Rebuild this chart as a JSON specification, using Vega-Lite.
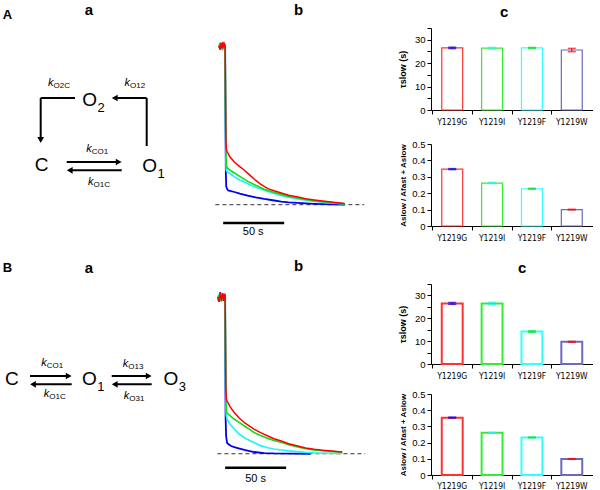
{
  "$schema": "https://vega.github.io/schema/vega-lite/v6.json",
  "padding": {"left": 0, "top": 3, "right": 0, "bottom": 0},
  "background": "white",
  "config": {
    "view": {"stroke": null},
    "font": "Liberation Sans",
    "title": {"fontSize": 15, "fontWeight": "bold", "font": "Liberation Sans", "color": "black", "offset": 10},
    "axis": {"domainColor": "black", "tickColor": "black", "labelColor": "black", "titleColor": "black", "grid": false, "labelFont": "Liberation Sans", "titleFont": "Liberation Sans", "labelOverlap": false}
  },
  "datasets": {
    "schA": [
      {"kind": "fig", "x": 7.5, "y": -13, "base": "A", "sub": ""},
      {"kind": "panel", "x": 89, "y": -17.7, "base": "a", "sub": ""},
      {"kind": "k", "x": 53.5, "y": 55, "base": "k", "sub": "O2C"},
      {"kind": "k", "x": 130, "y": 55, "base": "k", "sub": "O12"},
      {"kind": "k", "x": 91.7, "y": 121.3, "base": "k", "sub": "CO1"},
      {"kind": "k", "x": 93.5, "y": 154, "base": "k", "sub": "O1C"},
      {"kind": "state", "x": 97, "y": 72, "base": "O", "sub": "2"},
      {"kind": "state", "x": 157, "y": 138, "base": "O", "sub": "1"},
      {"kind": "state", "x": 48.5, "y": 137, "base": "C", "sub": ""}
    ],
    "segA": [
      {"x": 75, "y": 70, "x2": 40.7, "y2": 70},
      {"x": 40.7, "y": 70, "x2": 40.7, "y2": 111},
      {"x": 146.7, "y": 118, "x2": 146.7, "y2": 70},
      {"x": 146.7, "y": 70, "x2": 116, "y2": 70},
      {"x": 66.7, "y": 134, "x2": 117, "y2": 134},
      {"x": 121.7, "y": 142.3, "x2": 71, "y2": 142.3}
    ],
    "headA": [
      {"x": 118.7, "y": 134, "dir": "right"},
      {"x": 69.7, "y": 142.3, "dir": "left"},
      {"x": 114.7, "y": 70, "dir": "left"},
      {"x": 40.7, "y": 112, "dir": "down"}
    ],
    "schB": [
      {"kind": "fig", "x": 7.5, "y": -16.3, "base": "B", "sub": ""},
      {"kind": "panel", "x": 89, "y": -16.3, "base": "a", "sub": ""},
      {"kind": "state", "x": 18.7, "y": 95.3, "base": "C", "sub": ""},
      {"kind": "k", "x": 46.7, "y": 78.7, "base": "k", "sub": "CO1"},
      {"kind": "k", "x": 49.3, "y": 110.3, "base": "k", "sub": "O1C"},
      {"kind": "state", "x": 96.7, "y": 95.3, "base": "O", "sub": "1"},
      {"kind": "k", "x": 128.3, "y": 80.3, "base": "k", "sub": "O13"},
      {"kind": "k", "x": 129.3, "y": 112, "base": "k", "sub": "O31"},
      {"kind": "state", "x": 178.3, "y": 95.3, "base": "O", "sub": "3"}
    ],
    "segB": [
      {"x": 30, "y": 92, "x2": 68, "y2": 92},
      {"x": 71.7, "y": 100.3, "x2": 33, "y2": 100.3},
      {"x": 111.7, "y": 92, "x2": 148, "y2": 92},
      {"x": 151.7, "y": 100.3, "x2": 114.5, "y2": 100.3}
    ],
    "headB": [
      {"x": 68.7, "y": 92, "dir": "right"},
      {"x": 33, "y": 100.3, "dir": "left"},
      {"x": 148.7, "y": 92, "dir": "right"},
      {"x": 114.7, "y": 100.3, "dir": "left"}
    ],
    "traceA": [
      {"m": "W", "t": -5, "I": 0.99}, {"m": "W", "t": -4.2, "I": 1.01}, {"m": "W", "t": -3.4, "I": 0.98}, {"m": "W", "t": -2.6, "I": 1.015}, {"m": "W", "t": -1.8, "I": 0.99}, {"m": "W", "t": -1, "I": 1.01}, {"m": "W", "t": -0.4, "I": 0.985}, {"m": "W", "t": 0, "I": 1.0},
      {"m": "W", "t": 0.3, "I": 0.5}, {"m": "W", "t": 0.6, "I": 0.2}, {"m": "W", "t": 0.9, "I": 0.115}, {"m": "W", "t": 1.6, "I": 0.1}, {"m": "W", "t": 2.5, "I": 0.09}, {"m": "W", "t": 7.6, "I": 0.08}, {"m": "W", "t": 12, "I": 0.07}, {"m": "W", "t": 18.5, "I": 0.057}, {"m": "W", "t": 25, "I": 0.046}, {"m": "W", "t": 32, "I": 0.036}, {"m": "W", "t": 39, "I": 0.028}, {"m": "W", "t": 46, "I": 0.019}, {"m": "W", "t": 52, "I": 0.014}, {"m": "W", "t": 59.5, "I": 0.011}, {"m": "W", "t": 66, "I": 0.008}, {"m": "W", "t": 73, "I": 0.005}, {"m": "W", "t": 80, "I": 0.003}, {"m": "W", "t": 87, "I": 0.002}, {"m": "W", "t": 98, "I": 0.001},
      {"m": "F", "t": -5, "I": 1.01}, {"m": "F", "t": -4.2, "I": 0.985}, {"m": "F", "t": -3.4, "I": 1.02}, {"m": "F", "t": -2.6, "I": 0.98}, {"m": "F", "t": -1.8, "I": 1.01}, {"m": "F", "t": -1, "I": 0.985}, {"m": "F", "t": -0.4, "I": 1.015}, {"m": "F", "t": 0, "I": 1.0},
      {"m": "F", "t": 0.3, "I": 0.6}, {"m": "F", "t": 0.6, "I": 0.28}, {"m": "F", "t": 1.0, "I": 0.215}, {"m": "F", "t": 2.2, "I": 0.206}, {"m": "F", "t": 5, "I": 0.19}, {"m": "F", "t": 7.6, "I": 0.175}, {"m": "F", "t": 12, "I": 0.155}, {"m": "F", "t": 18.5, "I": 0.132}, {"m": "F", "t": 25, "I": 0.11}, {"m": "F", "t": 32, "I": 0.091}, {"m": "F", "t": 39, "I": 0.074}, {"m": "F", "t": 46, "I": 0.057}, {"m": "F", "t": 52, "I": 0.047}, {"m": "F", "t": 59.5, "I": 0.036}, {"m": "F", "t": 66, "I": 0.029}, {"m": "F", "t": 73, "I": 0.021}, {"m": "F", "t": 80, "I": 0.016}, {"m": "F", "t": 87, "I": 0.011}, {"m": "F", "t": 92, "I": 0.008}, {"m": "F", "t": 98, "I": 0.005},
      {"m": "I", "t": -5, "I": 0.99}, {"m": "I", "t": -4.2, "I": 1.02}, {"m": "I", "t": -3.4, "I": 0.98}, {"m": "I", "t": -2.6, "I": 1.01}, {"m": "I", "t": -1.8, "I": 0.985}, {"m": "I", "t": -1, "I": 1.015}, {"m": "I", "t": -0.4, "I": 0.99}, {"m": "I", "t": 0, "I": 1.0},
      {"m": "I", "t": 0.3, "I": 0.65}, {"m": "I", "t": 0.6, "I": 0.32}, {"m": "I", "t": 1.0, "I": 0.245}, {"m": "I", "t": 2.2, "I": 0.227}, {"m": "I", "t": 5, "I": 0.212}, {"m": "I", "t": 7.6, "I": 0.2}, {"m": "I", "t": 12, "I": 0.178}, {"m": "I", "t": 18.5, "I": 0.147}, {"m": "I", "t": 25, "I": 0.122}, {"m": "I", "t": 32, "I": 0.097}, {"m": "I", "t": 39, "I": 0.08}, {"m": "I", "t": 46, "I": 0.065}, {"m": "I", "t": 52, "I": 0.052}, {"m": "I", "t": 59.5, "I": 0.042}, {"m": "I", "t": 66, "I": 0.033}, {"m": "I", "t": 73, "I": 0.025}, {"m": "I", "t": 80, "I": 0.019}, {"m": "I", "t": 87, "I": 0.013}, {"m": "I", "t": 92, "I": 0.009}, {"m": "I", "t": 98, "I": 0.005},
      {"m": "G", "t": -5, "I": 1.0}, {"m": "G", "t": -4.2, "I": 0.975}, {"m": "G", "t": -3.4, "I": 1.02}, {"m": "G", "t": -2.6, "I": 0.985}, {"m": "G", "t": -1.8, "I": 1.025}, {"m": "G", "t": -1, "I": 0.99}, {"m": "G", "t": -0.4, "I": 1.01}, {"m": "G", "t": 0, "I": 1.0},
      {"m": "G", "t": 0.3, "I": 0.7}, {"m": "G", "t": 0.6, "I": 0.42}, {"m": "G", "t": 1.0, "I": 0.35}, {"m": "G", "t": 1.6, "I": 0.335}, {"m": "G", "t": 4, "I": 0.3}, {"m": "G", "t": 7.6, "I": 0.269}, {"m": "G", "t": 12, "I": 0.24}, {"m": "G", "t": 15.8, "I": 0.217}, {"m": "G", "t": 20, "I": 0.188}, {"m": "G", "t": 24, "I": 0.16}, {"m": "G", "t": 29, "I": 0.13}, {"m": "G", "t": 35, "I": 0.101}, {"m": "G", "t": 40, "I": 0.088}, {"m": "G", "t": 46, "I": 0.074}, {"m": "G", "t": 52, "I": 0.06}, {"m": "G", "t": 59.5, "I": 0.049}, {"m": "G", "t": 66, "I": 0.038}, {"m": "G", "t": 73, "I": 0.03}, {"m": "G", "t": 80, "I": 0.023}, {"m": "G", "t": 87, "I": 0.017}, {"m": "G", "t": 92, "I": 0.012}, {"m": "G", "t": 98, "I": 0.007}
    ],
    "traceB": [
      {"m": "W", "t": -6, "I": 1.0}, {"m": "W", "t": -5, "I": 0.97}, {"m": "W", "t": -4, "I": 1.03}, {"m": "W", "t": -3, "I": 0.98}, {"m": "W", "t": -2, "I": 1.02}, {"m": "W", "t": -1, "I": 0.975}, {"m": "W", "t": -0.3, "I": 1.01}, {"m": "W", "t": 0, "I": 1.0},
      {"m": "W", "t": 0.2, "I": 0.5}, {"m": "W", "t": 0.4, "I": 0.23}, {"m": "W", "t": 0.8, "I": 0.113}, {"m": "W", "t": 1.6, "I": 0.07}, {"m": "W", "t": 2.5, "I": 0.062}, {"m": "W", "t": 4.9, "I": 0.049}, {"m": "W", "t": 7.6, "I": 0.042}, {"m": "W", "t": 10.3, "I": 0.036}, {"m": "W", "t": 15.8, "I": 0.024}, {"m": "W", "t": 20, "I": 0.017}, {"m": "W", "t": 24, "I": 0.011}, {"m": "W", "t": 32, "I": 0.004}, {"m": "W", "t": 40, "I": 0.002}, {"m": "W", "t": 55, "I": 0.001}, {"m": "W", "t": 70, "I": 0.0},
      {"m": "F", "t": -6, "I": 0.98}, {"m": "F", "t": -5, "I": 1.02}, {"m": "F", "t": -4, "I": 0.975}, {"m": "F", "t": -3, "I": 1.025}, {"m": "F", "t": -2, "I": 0.98}, {"m": "F", "t": -1, "I": 1.02}, {"m": "F", "t": -0.3, "I": 0.99}, {"m": "F", "t": 0, "I": 1.0},
      {"m": "F", "t": 0.3, "I": 0.6}, {"m": "F", "t": 0.6, "I": 0.3}, {"m": "F", "t": 0.9, "I": 0.25}, {"m": "F", "t": 1.6, "I": 0.22}, {"m": "F", "t": 4, "I": 0.19}, {"m": "F", "t": 7.6, "I": 0.156}, {"m": "F", "t": 11.5, "I": 0.126}, {"m": "F", "t": 15.8, "I": 0.102}, {"m": "F", "t": 20, "I": 0.085}, {"m": "F", "t": 24, "I": 0.07}, {"m": "F", "t": 29, "I": 0.052}, {"m": "F", "t": 35, "I": 0.038}, {"m": "F", "t": 40, "I": 0.03}, {"m": "F", "t": 46, "I": 0.024}, {"m": "F", "t": 52, "I": 0.018}, {"m": "F", "t": 59.5, "I": 0.013}, {"m": "F", "t": 66, "I": 0.009}, {"m": "F", "t": 73, "I": 0.006}, {"m": "F", "t": 87, "I": 0.003}, {"m": "F", "t": 96, "I": 0.002},
      {"m": "I", "t": -6, "I": 1.01}, {"m": "I", "t": -5, "I": 0.98}, {"m": "I", "t": -4, "I": 1.02}, {"m": "I", "t": -3, "I": 0.97}, {"m": "I", "t": -2, "I": 1.015}, {"m": "I", "t": -1, "I": 0.985}, {"m": "I", "t": -0.3, "I": 1.02}, {"m": "I", "t": 0, "I": 1.0},
      {"m": "I", "t": 0.3, "I": 0.65}, {"m": "I", "t": 0.6, "I": 0.33}, {"m": "I", "t": 1.0, "I": 0.27}, {"m": "I", "t": 1.6, "I": 0.26}, {"m": "I", "t": 4, "I": 0.243}, {"m": "I", "t": 7.6, "I": 0.22}, {"m": "I", "t": 11.5, "I": 0.2}, {"m": "I", "t": 15.8, "I": 0.177}, {"m": "I", "t": 20, "I": 0.155}, {"m": "I", "t": 24, "I": 0.134}, {"m": "I", "t": 29, "I": 0.116}, {"m": "I", "t": 35, "I": 0.098}, {"m": "I", "t": 40, "I": 0.085}, {"m": "I", "t": 46, "I": 0.073}, {"m": "I", "t": 52, "I": 0.058}, {"m": "I", "t": 59.5, "I": 0.043}, {"m": "I", "t": 66, "I": 0.032}, {"m": "I", "t": 73, "I": 0.024}, {"m": "I", "t": 80, "I": 0.019}, {"m": "I", "t": 87, "I": 0.015}, {"m": "I", "t": 96, "I": 0.009},
      {"m": "G", "t": -6, "I": 1.0}, {"m": "G", "t": -5, "I": 0.97}, {"m": "G", "t": -4, "I": 1.03}, {"m": "G", "t": -3, "I": 0.975}, {"m": "G", "t": -2, "I": 1.025}, {"m": "G", "t": -1, "I": 0.98}, {"m": "G", "t": -0.3, "I": 1.02}, {"m": "G", "t": 0, "I": 1.0},
      {"m": "G", "t": 0.3, "I": 0.7}, {"m": "G", "t": 0.6, "I": 0.42}, {"m": "G", "t": 1.0, "I": 0.35}, {"m": "G", "t": 1.6, "I": 0.336}, {"m": "G", "t": 4, "I": 0.3}, {"m": "G", "t": 7.6, "I": 0.262}, {"m": "G", "t": 11.5, "I": 0.228}, {"m": "G", "t": 15.8, "I": 0.198}, {"m": "G", "t": 20, "I": 0.176}, {"m": "G", "t": 24, "I": 0.156}, {"m": "G", "t": 29, "I": 0.135}, {"m": "G", "t": 35, "I": 0.113}, {"m": "G", "t": 40, "I": 0.096}, {"m": "G", "t": 46, "I": 0.081}, {"m": "G", "t": 52, "I": 0.064}, {"m": "G", "t": 59.5, "I": 0.049}, {"m": "G", "t": 66, "I": 0.037}, {"m": "G", "t": 73, "I": 0.028}, {"m": "G", "t": 80, "I": 0.022}, {"m": "G", "t": 87, "I": 0.017}, {"m": "G", "t": 96, "I": 0.011}
    ],
    "baseA": [{"t1": -8, "t2": 114, "I": 0}],
    "baseB": [{"t1": -6.3, "t2": 114.8, "I": 0}],
    "barA": [{"t1": -1.6, "t2": 48.4, "I": -0.115, "tl": 23, "Il": -0.172, "label": "50 s"}],
    "barB": [{"t1": 0, "t2": 50, "I": -0.089, "tl": 25, "Il": -0.16, "label": "50 s"}],
    "tauA": [
      {"m": "Y1219G", "v": 26.5, "lo": 26.2, "hi": 26.8},
      {"m": "Y1219I", "v": 26.4, "lo": 26.0, "hi": 26.7},
      {"m": "Y1219F", "v": 26.5, "lo": 26.3, "hi": 26.7},
      {"m": "Y1219W", "v": 25.6, "lo": 24.9, "hi": 26.3}
    ],
    "ratA": [
      {"m": "Y1219G", "v": 0.347, "lo": 0.344, "hi": 0.35},
      {"m": "Y1219I", "v": 0.262, "lo": 0.259, "hi": 0.266},
      {"m": "Y1219F", "v": 0.227, "lo": 0.224, "hi": 0.23},
      {"m": "Y1219W", "v": 0.1, "lo": 0.098, "hi": 0.102}
    ],
    "tauB": [
      {"m": "Y1219G", "v": 26.5, "lo": 26.1, "hi": 26.9},
      {"m": "Y1219I", "v": 26.5, "lo": 26.0, "hi": 27.0},
      {"m": "Y1219F", "v": 14.2, "lo": 13.9, "hi": 14.5},
      {"m": "Y1219W", "v": 9.7, "lo": 9.5, "hi": 9.9}
    ],
    "ratB": [
      {"m": "Y1219G", "v": 0.354, "lo": 0.351, "hi": 0.357},
      {"m": "Y1219I", "v": 0.261, "lo": 0.259, "hi": 0.263},
      {"m": "Y1219F", "v": 0.232, "lo": 0.23, "hi": 0.234},
      {"m": "Y1219W", "v": 0.099, "lo": 0.097, "hi": 0.101}
    ]
  },
  "spacing": 17,
  "vconcat": [
    {
      "spacing": 0,
      "hconcat": [
        {
          "width": 205, "height": 214,
          "layer": [
            {"data": {"name": "segA"}, "mark": {"type": "rule", "strokeWidth": 2, "color": "black"},
             "encoding": {"x": {"field": "x", "type": "quantitative", "scale": {"domain": [0, 205], "nice": false, "zero": false}, "axis": null}, "y": {"field": "y", "type": "quantitative", "scale": {"domain": [0, 214], "reverse": true, "nice": false, "zero": false}, "axis": null}, "x2": {"field": "x2"}, "y2": {"field": "y2"}}},
            {"data": {"name": "headA"}, "mark": {"type": "point", "filled": true, "size": 45, "color": "black", "opacity": 1},
             "encoding": {"x": {"field": "x", "type": "quantitative"}, "y": {"field": "y", "type": "quantitative"}, "shape": {"field": "dir", "type": "nominal", "scale": {"domain": ["right", "left", "down"], "range": ["triangle-right", "triangle-left", "triangle-down"]}, "legend": null}}},
            {"data": {"name": "schA"}, "transform": [{"filter": "datum.kind === 'fig'"}], "mark": {"type": "text", "fontSize": 13, "fontWeight": "bold", "align": "center", "baseline": "middle", "color": "black"},
             "encoding": {"x": {"field": "x", "type": "quantitative"}, "y": {"field": "y", "type": "quantitative"}, "text": {"field": "base"}}},
            {"data": {"name": "schA"}, "transform": [{"filter": "datum.kind === 'panel'"}], "mark": {"type": "text", "fontSize": 15, "fontWeight": "bold", "align": "center", "baseline": "middle", "color": "black"},
             "encoding": {"x": {"field": "x", "type": "quantitative"}, "y": {"field": "y", "type": "quantitative"}, "text": {"field": "base"}}},
            {"data": {"name": "schA"}, "transform": [{"filter": "datum.kind === 'state'"}], "mark": {"type": "text", "fontSize": 19, "align": "right", "baseline": "middle", "color": "black"},
             "encoding": {"x": {"field": "x", "type": "quantitative"}, "y": {"field": "y", "type": "quantitative"}, "text": {"field": "base"}}},
            {"data": {"name": "schA"}, "transform": [{"filter": "datum.kind === 'state'"}], "mark": {"type": "text", "fontSize": 13, "align": "left", "baseline": "middle", "dy": 8, "dx": 0.5, "color": "black"},
             "encoding": {"x": {"field": "x", "type": "quantitative"}, "y": {"field": "y", "type": "quantitative"}, "text": {"field": "sub"}}},
            {"data": {"name": "schA"}, "transform": [{"filter": "datum.kind === 'k'"}], "mark": {"type": "text", "fontSize": 11, "fontStyle": "italic", "align": "right", "baseline": "middle", "color": "black"},
             "encoding": {"x": {"field": "x", "type": "quantitative"}, "y": {"field": "y", "type": "quantitative"}, "text": {"field": "base"}}},
            {"data": {"name": "schA"}, "transform": [{"filter": "datum.kind === 'k'"}], "mark": {"type": "text", "fontSize": 8, "align": "left", "baseline": "middle", "dy": 3, "color": "black"},
             "encoding": {"x": {"field": "x", "type": "quantitative"}, "y": {"field": "y", "type": "quantitative"}, "text": {"field": "sub"}}}
          ]
        },
        {
          "title": {"text": "b", "anchor": "middle", "dx": -3},
          "width": 193, "height": 214,
          "layer": [
            {"data": {"name": "baseA"}, "mark": {"type": "rule", "strokeDash": [4, 3], "color": "#333333", "strokeWidth": 1},
             "encoding": {"x": {"field": "t1", "type": "quantitative", "scale": {"domain": [-16.5, 141.7], "nice": false, "zero": false}, "axis": null}, "x2": {"field": "t2"}, "y": {"field": "I", "type": "quantitative", "scale": {"domain": [-0.235, 1.113], "nice": false, "zero": false}, "axis": null}}},
            {"data": {"name": "traceA"}, "mark": {"type": "line"},
             "encoding": {"x": {"field": "t", "type": "quantitative"}, "y": {"field": "I", "type": "quantitative"},
               "color": {"field": "m", "type": "nominal", "scale": {"domain": ["W", "F", "I", "G"], "range": ["#0000ee", "#22f5f5", "#11dd11", "#ff0000"]}, "legend": null},
               "strokeWidth": {"field": "m", "type": "nominal", "scale": {"domain": ["W", "F", "I", "G"], "range": [1.8, 1.5, 1.5, 1.1]}, "legend": null}}},
            {"data": {"name": "barA"}, "mark": {"type": "rule", "strokeWidth": 2.5, "color": "black"},
             "encoding": {"x": {"field": "t1", "type": "quantitative"}, "x2": {"field": "t2"}, "y": {"field": "I", "type": "quantitative"}}},
            {"data": {"name": "barA"}, "mark": {"type": "text", "fontSize": 11, "baseline": "middle", "align": "center", "color": "black"},
             "encoding": {"x": {"field": "tl", "type": "quantitative"}, "y": {"field": "Il", "type": "quantitative"}, "text": {"field": "label"}}}
          ]
        },
        {
          "title": {"text": "c", "anchor": "start", "dx": 102, "offset": 3},
          "spacing": 13,
          "vconcat": [
            {
              "width": 162, "height": 82,
              "data": {"name": "tauA"},
              "encoding": {"x": {"field": "m", "type": "nominal", "sort": null, "scale": {"domain": ["Y1219G", "Y1219I", "Y1219F", "Y1219W"], "paddingInner": 0.475, "paddingOuter": 0.27},
                "axis": {"title": null, "labelAngle": 0, "bandPosition": -0.45, "tickSize": 4, "labelPadding": 3, "labelFontSize": 8.5, "labelFont": "Liberation Sans Narrow, DejaVu Sans Condensed, Liberation Sans"}}},
              "layer": [
                {"mark": {"type": "bar", "fill": "white", "strokeWidth": 1.2},
                 "encoding": {"y": {"field": "v", "type": "quantitative", "scale": {"domain": [0, 35], "nice": false}, "axis": {"title": "τslow (s)", "values": [0, 5, 10, 15, 20, 25, 30, 35], "labelExpr": "datum.value % 10 === 0 ? datum.label : ''", "labelOverlap": false, "tickSize": 4, "labelFontSize": 9.5, "titleFontSize": 9, "titleFontWeight": "bold", "titlePadding": 4, "minExtent": 20, "maxExtent": 20}},
                   "stroke": {"field": "m", "type": "nominal", "scale": {"domain": ["Y1219G", "Y1219I", "Y1219F", "Y1219W"], "range": ["#ff3333", "#33ee33", "#33ffff", "#6a6ac0"]}, "legend": null}}},
                {"mark": {"type": "rule", "strokeWidth": 1},
                 "encoding": {"y": {"field": "lo", "type": "quantitative", "axis": {"title": "τslow (s)", "values": [0, 5, 10, 15, 20, 25, 30, 35], "labelExpr": "datum.value % 10 === 0 ? datum.label : ''", "labelOverlap": false, "tickSize": 4, "labelFontSize": 9.5, "titleFontSize": 9, "titleFontWeight": "bold", "titlePadding": 4, "minExtent": 20, "maxExtent": 20}}, "y2": {"field": "hi"}, "color": {"field": "m", "type": "nominal", "scale": {"domain": ["Y1219G", "Y1219I", "Y1219F", "Y1219W"], "range": ["#ff3333", "#33ee33", "#33ffff", "#6a6ac0"]}, "legend": null}}},
                {"mark": {"type": "tick", "thickness": 1.5, "size": 8},
                 "encoding": {"y": {"field": "hi", "type": "quantitative", "axis": {"title": "τslow (s)", "values": [0, 5, 10, 15, 20, 25, 30, 35], "labelExpr": "datum.value % 10 === 0 ? datum.label : ''", "labelOverlap": false, "tickSize": 4, "labelFontSize": 9.5, "titleFontSize": 9, "titleFontWeight": "bold", "titlePadding": 4, "minExtent": 20, "maxExtent": 20}}, "color": {"field": "m", "type": "nominal", "legend": null}}},
                {"mark": {"type": "tick", "thickness": 1.5, "size": 8},
                 "encoding": {"y": {"field": "lo", "type": "quantitative", "axis": {"title": "τslow (s)", "values": [0, 5, 10, 15, 20, 25, 30, 35], "labelExpr": "datum.value % 10 === 0 ? datum.label : ''", "labelOverlap": false, "tickSize": 4, "labelFontSize": 9.5, "titleFontSize": 9, "titleFontWeight": "bold", "titlePadding": 4, "minExtent": 20, "maxExtent": 20}}, "color": {"field": "m", "type": "nominal", "legend": null}}}
              ]
            },
            {
              "width": 162, "height": 82,
              "data": {"name": "ratA"},
              "encoding": {"x": {"field": "m", "type": "nominal", "sort": null, "scale": {"domain": ["Y1219G", "Y1219I", "Y1219F", "Y1219W"], "paddingInner": 0.475, "paddingOuter": 0.27},
                "axis": {"title": null, "labelAngle": 0, "bandPosition": -0.45, "tickSize": 4, "labelPadding": 3, "labelFontSize": 8.5, "labelFont": "Liberation Sans Narrow, DejaVu Sans Condensed, Liberation Sans"}}},
              "layer": [
                {"mark": {"type": "bar", "fill": "white", "strokeWidth": 1.2},
                 "encoding": {"y": {"field": "v", "type": "quantitative", "scale": {"domain": [0, 0.5], "nice": false}, "axis": {"title": "Aslow / Afast + Aslow", "values": [0, 0.1, 0.2, 0.3, 0.4, 0.5], "labelExpr": "datum.value === 0 ? '0' : format(datum.value, '.1f')", "labelOverlap": false, "tickSize": 4, "labelFontSize": 9.5, "titleFontSize": 8, "titleFontWeight": "bold", "titlePadding": 4, "minExtent": 20, "maxExtent": 20}},
                   "stroke": {"field": "m", "type": "nominal", "scale": {"domain": ["Y1219G", "Y1219I", "Y1219F", "Y1219W"], "range": ["#ff3333", "#33ee33", "#33ffff", "#6a6ac0"]}, "legend": null}}},
                {"mark": {"type": "rule", "strokeWidth": 1},
                 "encoding": {"y": {"field": "lo", "type": "quantitative", "axis": {"title": "Aslow / Afast + Aslow", "values": [0, 0.1, 0.2, 0.3, 0.4, 0.5], "labelExpr": "datum.value === 0 ? '0' : format(datum.value, '.1f')", "labelOverlap": false, "tickSize": 4, "labelFontSize": 9.5, "titleFontSize": 8, "titleFontWeight": "bold", "titlePadding": 4, "minExtent": 20, "maxExtent": 20}}, "y2": {"field": "hi"}, "color": {"field": "m", "type": "nominal", "scale": {"domain": ["Y1219G", "Y1219I", "Y1219F", "Y1219W"], "range": ["#ff3333", "#33ee33", "#33ffff", "#6a6ac0"]}, "legend": null}}},
                {"mark": {"type": "tick", "thickness": 1.5, "size": 8},
                 "encoding": {"y": {"field": "hi", "type": "quantitative", "axis": {"title": "Aslow / Afast + Aslow", "values": [0, 0.1, 0.2, 0.3, 0.4, 0.5], "labelExpr": "datum.value === 0 ? '0' : format(datum.value, '.1f')", "labelOverlap": false, "tickSize": 4, "labelFontSize": 9.5, "titleFontSize": 8, "titleFontWeight": "bold", "titlePadding": 4, "minExtent": 20, "maxExtent": 20}}, "color": {"field": "m", "type": "nominal", "legend": null}}},
                {"mark": {"type": "tick", "thickness": 1.5, "size": 8},
                 "encoding": {"y": {"field": "lo", "type": "quantitative", "axis": {"title": "Aslow / Afast + Aslow", "values": [0, 0.1, 0.2, 0.3, 0.4, 0.5], "labelExpr": "datum.value === 0 ? '0' : format(datum.value, '.1f')", "labelOverlap": false, "tickSize": 4, "labelFontSize": 9.5, "titleFontSize": 8, "titleFontWeight": "bold", "titlePadding": 4, "minExtent": 20, "maxExtent": 20}}, "color": {"field": "m", "type": "nominal", "legend": null}}}
              ]
            }
          ]
        }
      ]
    },
    {
      "spacing": 0,
      "hconcat": [
        {
          "width": 205, "height": 205,
          "layer": [
            {"data": {"name": "segB"}, "mark": {"type": "rule", "strokeWidth": 2, "color": "black"},
             "encoding": {"x": {"field": "x", "type": "quantitative", "scale": {"domain": [0, 205], "nice": false, "zero": false}, "axis": null}, "y": {"field": "y", "type": "quantitative", "scale": {"domain": [0, 205], "reverse": true, "nice": false, "zero": false}, "axis": null}, "x2": {"field": "x2"}, "y2": {"field": "y2"}}},
            {"data": {"name": "headB"}, "mark": {"type": "point", "filled": true, "size": 45, "color": "black", "opacity": 1},
             "encoding": {"x": {"field": "x", "type": "quantitative"}, "y": {"field": "y", "type": "quantitative"}, "shape": {"field": "dir", "type": "nominal", "scale": {"domain": ["right", "left", "down"], "range": ["triangle-right", "triangle-left", "triangle-down"]}, "legend": null}}},
            {"data": {"name": "schB"}, "transform": [{"filter": "datum.kind === 'fig'"}], "mark": {"type": "text", "fontSize": 13, "fontWeight": "bold", "align": "center", "baseline": "middle", "color": "black"},
             "encoding": {"x": {"field": "x", "type": "quantitative"}, "y": {"field": "y", "type": "quantitative"}, "text": {"field": "base"}}},
            {"data": {"name": "schB"}, "transform": [{"filter": "datum.kind === 'panel'"}], "mark": {"type": "text", "fontSize": 15, "fontWeight": "bold", "align": "center", "baseline": "middle", "color": "black"},
             "encoding": {"x": {"field": "x", "type": "quantitative"}, "y": {"field": "y", "type": "quantitative"}, "text": {"field": "base"}}},
            {"data": {"name": "schB"}, "transform": [{"filter": "datum.kind === 'state'"}], "mark": {"type": "text", "fontSize": 19, "align": "right", "baseline": "middle", "color": "black"},
             "encoding": {"x": {"field": "x", "type": "quantitative"}, "y": {"field": "y", "type": "quantitative"}, "text": {"field": "base"}}},
            {"data": {"name": "schB"}, "transform": [{"filter": "datum.kind === 'state'"}], "mark": {"type": "text", "fontSize": 13, "align": "left", "baseline": "middle", "dy": 8, "dx": 0.5, "color": "black"},
             "encoding": {"x": {"field": "x", "type": "quantitative"}, "y": {"field": "y", "type": "quantitative"}, "text": {"field": "sub"}}},
            {"data": {"name": "schB"}, "transform": [{"filter": "datum.kind === 'k'"}], "mark": {"type": "text", "fontSize": 11, "fontStyle": "italic", "align": "right", "baseline": "middle", "color": "black"},
             "encoding": {"x": {"field": "x", "type": "quantitative"}, "y": {"field": "y", "type": "quantitative"}, "text": {"field": "base"}}},
            {"data": {"name": "schB"}, "transform": [{"filter": "datum.kind === 'k'"}], "mark": {"type": "text", "fontSize": 8, "align": "left", "baseline": "middle", "dy": 3, "color": "black"},
             "encoding": {"x": {"field": "x", "type": "quantitative"}, "y": {"field": "y", "type": "quantitative"}, "text": {"field": "sub"}}}
          ]
        },
        {
          "title": {"text": "b", "anchor": "middle", "dx": -3},
          "width": 193, "height": 205,
          "layer": [
            {"data": {"name": "baseB"}, "mark": {"type": "rule", "strokeDash": [4, 3], "color": "#333333", "strokeWidth": 1},
             "encoding": {"x": {"field": "t1", "type": "quantitative", "scale": {"domain": [-16.5, 141.7], "nice": false, "zero": false}, "axis": null}, "x2": {"field": "t2"}, "y": {"field": "I", "type": "quantitative", "scale": {"domain": [-0.225, 1.083], "nice": false, "zero": false}, "axis": null}}},
            {"data": {"name": "traceB"}, "mark": {"type": "line"},
             "encoding": {"x": {"field": "t", "type": "quantitative"}, "y": {"field": "I", "type": "quantitative"},
               "color": {"field": "m", "type": "nominal", "scale": {"domain": ["W", "F", "I", "G"], "range": ["#0000ee", "#22f5f5", "#11dd11", "#ff0000"]}, "legend": null},
               "strokeWidth": {"field": "m", "type": "nominal", "scale": {"domain": ["W", "F", "I", "G"], "range": [1.8, 1.5, 1.5, 1.1]}, "legend": null}}},
            {"data": {"name": "barB"}, "mark": {"type": "rule", "strokeWidth": 2.5, "color": "black"},
             "encoding": {"x": {"field": "t1", "type": "quantitative"}, "x2": {"field": "t2"}, "y": {"field": "I", "type": "quantitative"}}},
            {"data": {"name": "barB"}, "mark": {"type": "text", "fontSize": 11, "baseline": "middle", "align": "center", "color": "black"},
             "encoding": {"x": {"field": "tl", "type": "quantitative"}, "y": {"field": "Il", "type": "quantitative"}, "text": {"field": "label"}}}
          ]
        },
        {
          "title": {"text": "c", "anchor": "start", "dx": 120, "offset": 3},
          "spacing": 9,
          "vconcat": [
            {
              "width": 162, "height": 80,
              "data": {"name": "tauB"},
              "encoding": {"x": {"field": "m", "type": "nominal", "sort": null, "scale": {"domain": ["Y1219G", "Y1219I", "Y1219F", "Y1219W"], "paddingInner": 0.475, "paddingOuter": 0.27},
                "axis": {"title": null, "labelAngle": 0, "bandPosition": -0.45, "tickSize": 4, "labelPadding": 3, "labelFontSize": 8.5, "labelFont": "Liberation Sans Narrow, DejaVu Sans Condensed, Liberation Sans"}}},
              "layer": [
                {"mark": {"type": "bar", "fill": "white", "strokeWidth": 2},
                 "encoding": {"y": {"field": "v", "type": "quantitative", "scale": {"domain": [0, 35], "nice": false}, "axis": {"title": "τslow (s)", "values": [0, 5, 10, 15, 20, 25, 30, 35], "labelExpr": "datum.value % 10 === 0 ? datum.label : ''", "labelOverlap": false, "tickSize": 4, "labelFontSize": 9.5, "titleFontSize": 9, "titleFontWeight": "bold", "titlePadding": 4, "minExtent": 20, "maxExtent": 20}},
                   "stroke": {"field": "m", "type": "nominal", "scale": {"domain": ["Y1219G", "Y1219I", "Y1219F", "Y1219W"], "range": ["#ff0000", "#00ee00", "#00ffff", "#3030a8"]}, "legend": null}}},
                {"mark": {"type": "rule", "strokeWidth": 1},
                 "encoding": {"y": {"field": "lo", "type": "quantitative", "axis": {"title": "τslow (s)", "values": [0, 5, 10, 15, 20, 25, 30, 35], "labelExpr": "datum.value % 10 === 0 ? datum.label : ''", "labelOverlap": false, "tickSize": 4, "labelFontSize": 9.5, "titleFontSize": 9, "titleFontWeight": "bold", "titlePadding": 4, "minExtent": 20, "maxExtent": 20}}, "y2": {"field": "hi"}, "color": {"field": "m", "type": "nominal", "scale": {"domain": ["Y1219G", "Y1219I", "Y1219F", "Y1219W"], "range": ["#ff0000", "#00ee00", "#00ffff", "#3030a8"]}, "legend": null}}},
                {"mark": {"type": "tick", "thickness": 1.5, "size": 8},
                 "encoding": {"y": {"field": "hi", "type": "quantitative", "axis": {"title": "τslow (s)", "values": [0, 5, 10, 15, 20, 25, 30, 35], "labelExpr": "datum.value % 10 === 0 ? datum.label : ''", "labelOverlap": false, "tickSize": 4, "labelFontSize": 9.5, "titleFontSize": 9, "titleFontWeight": "bold", "titlePadding": 4, "minExtent": 20, "maxExtent": 20}}, "color": {"field": "m", "type": "nominal", "legend": null}}},
                {"mark": {"type": "tick", "thickness": 1.5, "size": 8},
                 "encoding": {"y": {"field": "lo", "type": "quantitative", "axis": {"title": "τslow (s)", "values": [0, 5, 10, 15, 20, 25, 30, 35], "labelExpr": "datum.value % 10 === 0 ? datum.label : ''", "labelOverlap": false, "tickSize": 4, "labelFontSize": 9.5, "titleFontSize": 9, "titleFontWeight": "bold", "titlePadding": 4, "minExtent": 20, "maxExtent": 20}}, "color": {"field": "m", "type": "nominal", "legend": null}}}
              ]
            },
            {
              "width": 162, "height": 81,
              "data": {"name": "ratB"},
              "encoding": {"x": {"field": "m", "type": "nominal", "sort": null, "scale": {"domain": ["Y1219G", "Y1219I", "Y1219F", "Y1219W"], "paddingInner": 0.475, "paddingOuter": 0.27},
                "axis": {"title": null, "labelAngle": 0, "bandPosition": -0.45, "tickSize": 4, "labelPadding": 2, "labelFontSize": 8.5, "labelFont": "Liberation Sans Narrow, DejaVu Sans Condensed, Liberation Sans"}}},
              "layer": [
                {"mark": {"type": "bar", "fill": "white", "strokeWidth": 2},
                 "encoding": {"y": {"field": "v", "type": "quantitative", "scale": {"domain": [0, 0.5], "nice": false}, "axis": {"title": "Aslow / Afast + Aslow", "values": [0, 0.1, 0.2, 0.3, 0.4, 0.5], "labelExpr": "datum.value === 0 ? '0' : format(datum.value, '.1f')", "labelOverlap": false, "tickSize": 4, "labelFontSize": 9.5, "titleFontSize": 8, "titleFontWeight": "bold", "titlePadding": 4, "minExtent": 20, "maxExtent": 20}},
                   "stroke": {"field": "m", "type": "nominal", "scale": {"domain": ["Y1219G", "Y1219I", "Y1219F", "Y1219W"], "range": ["#ff0000", "#00ee00", "#00ffff", "#3030a8"]}, "legend": null}}},
                {"mark": {"type": "rule", "strokeWidth": 1},
                 "encoding": {"y": {"field": "lo", "type": "quantitative", "axis": {"title": "Aslow / Afast + Aslow", "values": [0, 0.1, 0.2, 0.3, 0.4, 0.5], "labelExpr": "datum.value === 0 ? '0' : format(datum.value, '.1f')", "labelOverlap": false, "tickSize": 4, "labelFontSize": 9.5, "titleFontSize": 8, "titleFontWeight": "bold", "titlePadding": 4, "minExtent": 20, "maxExtent": 20}}, "y2": {"field": "hi"}, "color": {"field": "m", "type": "nominal", "scale": {"domain": ["Y1219G", "Y1219I", "Y1219F", "Y1219W"], "range": ["#ff0000", "#00ee00", "#00ffff", "#3030a8"]}, "legend": null}}},
                {"mark": {"type": "tick", "thickness": 1.5, "size": 8},
                 "encoding": {"y": {"field": "hi", "type": "quantitative", "axis": {"title": "Aslow / Afast + Aslow", "values": [0, 0.1, 0.2, 0.3, 0.4, 0.5], "labelExpr": "datum.value === 0 ? '0' : format(datum.value, '.1f')", "labelOverlap": false, "tickSize": 4, "labelFontSize": 9.5, "titleFontSize": 8, "titleFontWeight": "bold", "titlePadding": 4, "minExtent": 20, "maxExtent": 20}}, "color": {"field": "m", "type": "nominal", "legend": null}}},
                {"mark": {"type": "tick", "thickness": 1.5, "size": 8},
                 "encoding": {"y": {"field": "lo", "type": "quantitative", "axis": {"title": "Aslow / Afast + Aslow", "values": [0, 0.1, 0.2, 0.3, 0.4, 0.5], "labelExpr": "datum.value === 0 ? '0' : format(datum.value, '.1f')", "labelOverlap": false, "tickSize": 4, "labelFontSize": 9.5, "titleFontSize": 8, "titleFontWeight": "bold", "titlePadding": 4, "minExtent": 20, "maxExtent": 20}}, "color": {"field": "m", "type": "nominal", "legend": null}}}
              ]
            }
          ]
        }
      ]
    }
  ]
}
